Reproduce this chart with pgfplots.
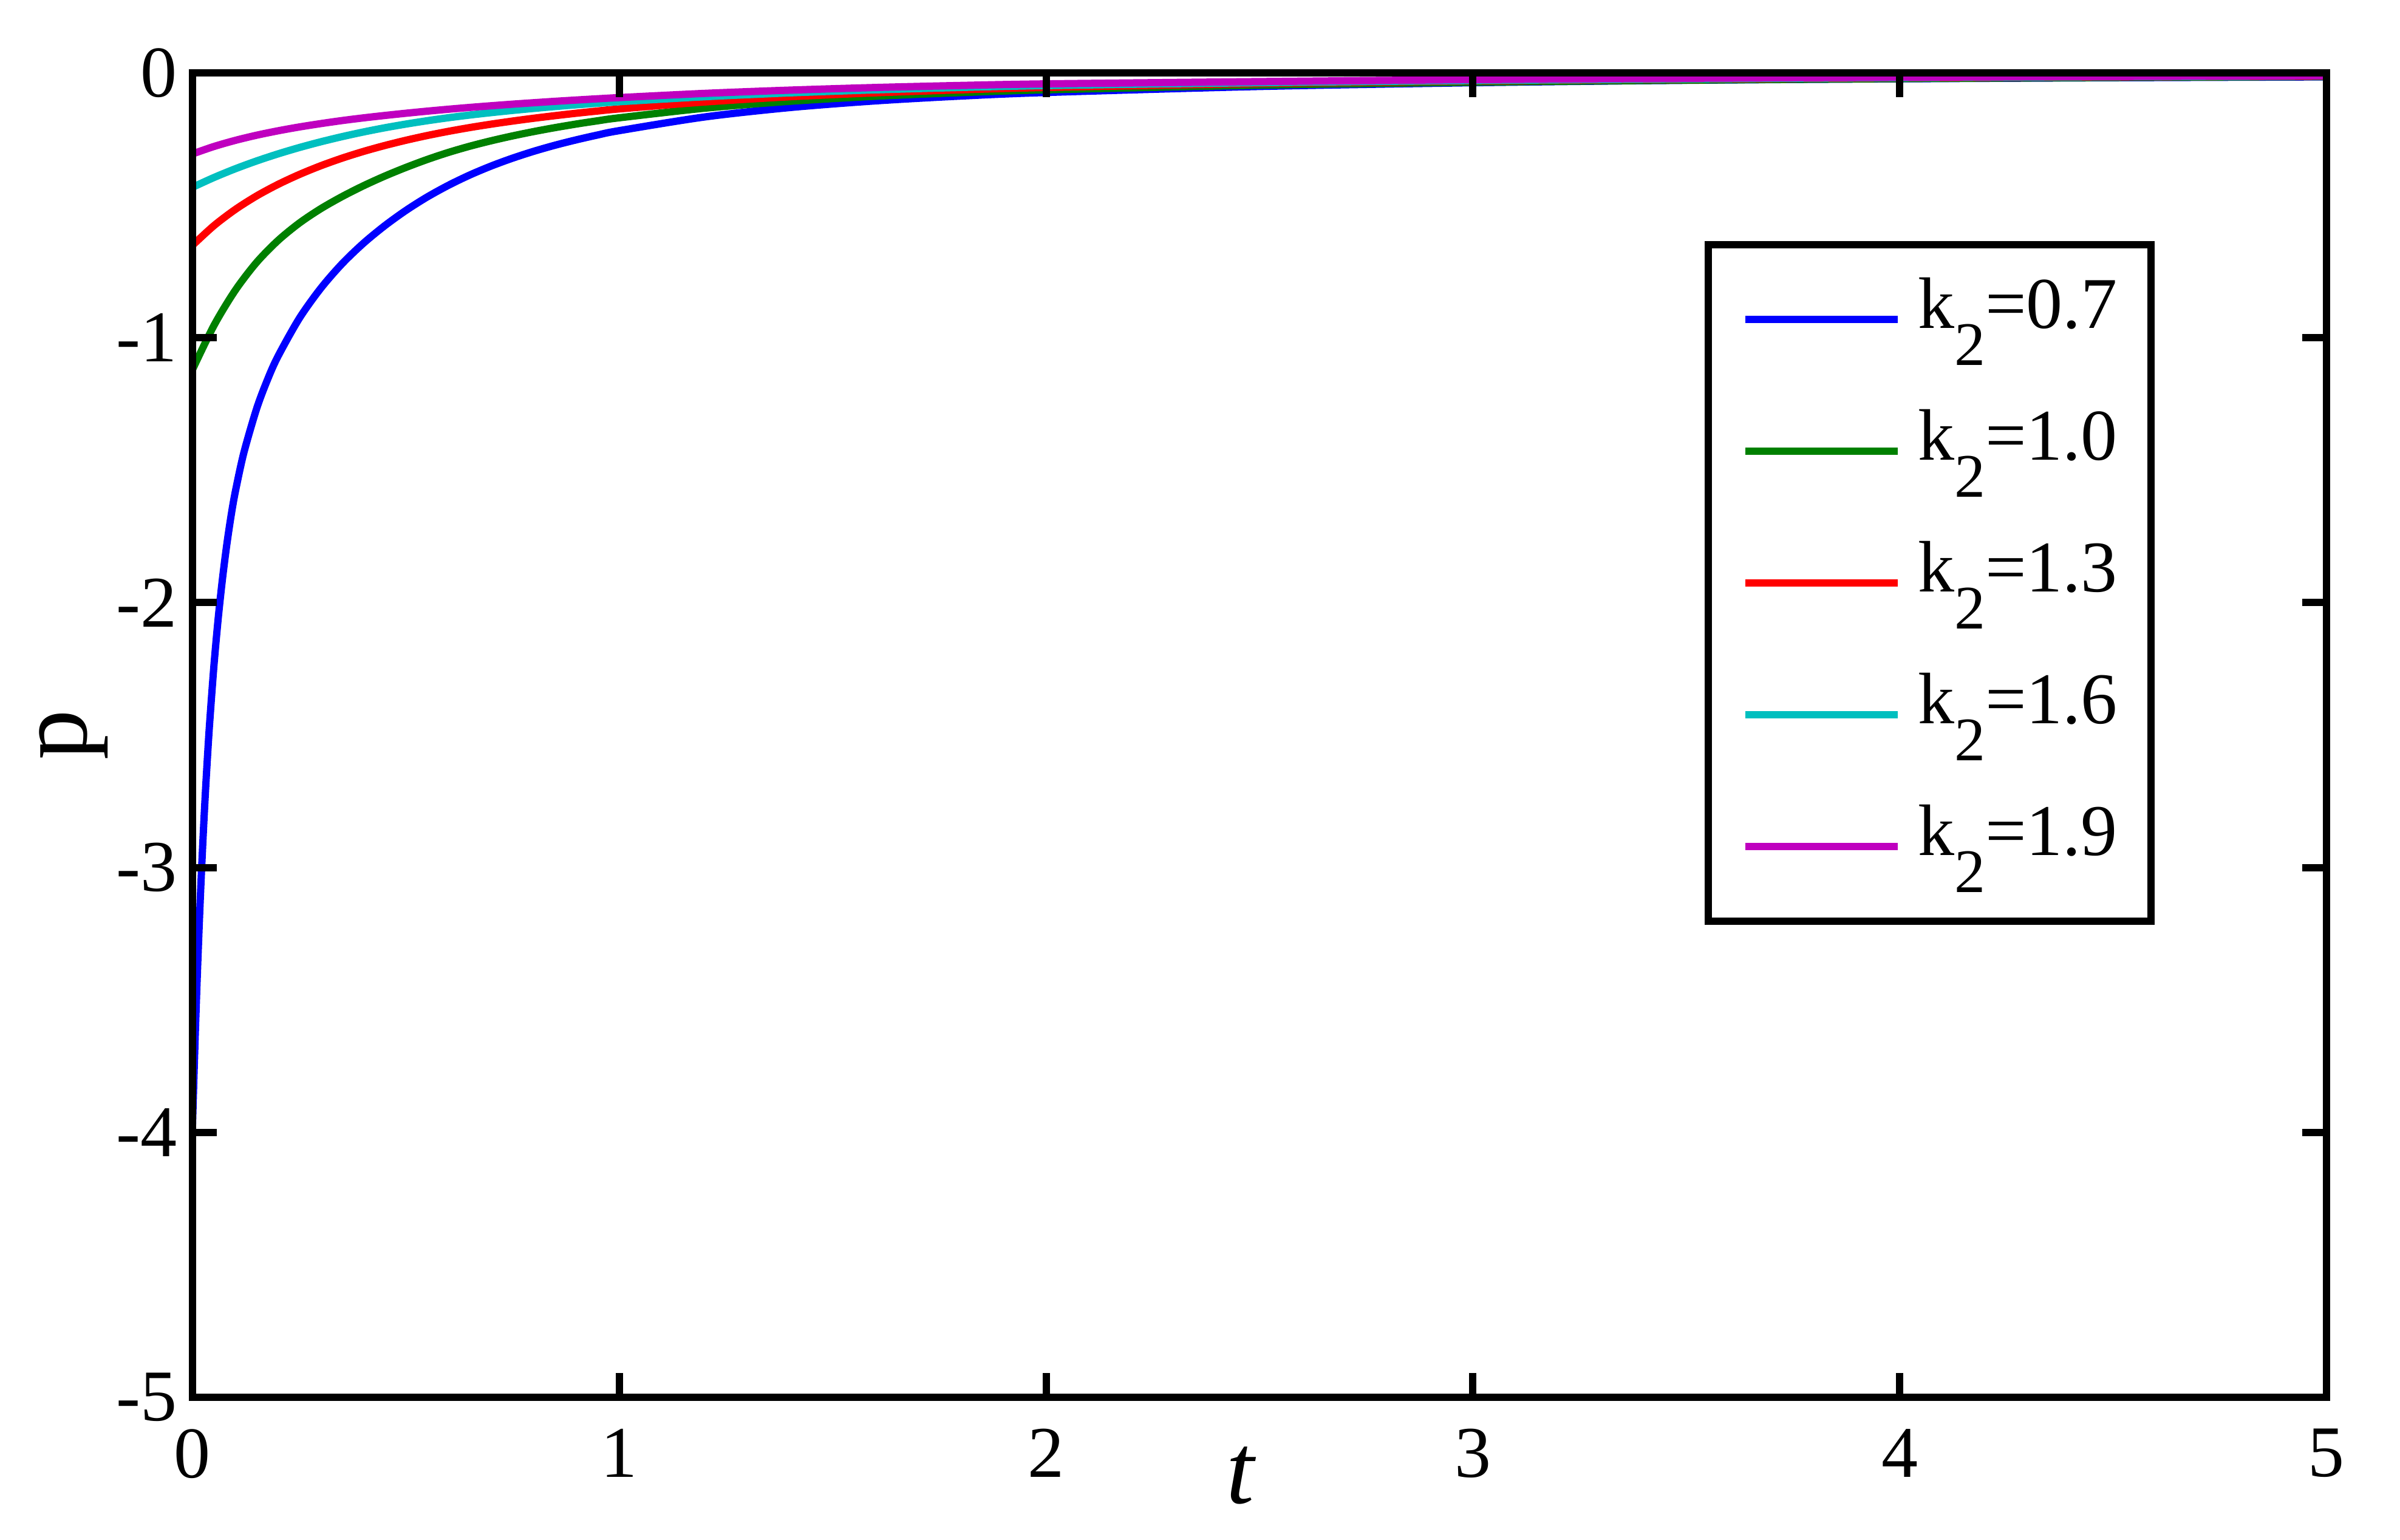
\documentclass[border=0pt]{standalone}
\usepackage{pgfplots}
\pgfplotsset{compat=1.18}
\usepackage{fontspec}
\setmainfont{Liberation Serif}
\definecolor{mblue}{RGB}{0,0,255}
\definecolor{mgreen}{RGB}{0,128,0}
\definecolor{mred}{RGB}{255,0,0}
\definecolor{mcyan}{RGB}{0,191,191}
\definecolor{mmag}{RGB}{191,0,191}
\newcommand{\kk}[1]{k\raisebox{-6.1bp}{\fontsize{10.2bp}{12bp}\selectfont 2}=#1}
\begin{document}
\begin{tikzpicture}
\begin{axis}[
  at={(0bp,0bp)}, anchor=south west,
  scale only axis, width=351.4bp, height=218.1bp,
  xmin=0, xmax=5, ymin=-5, ymax=0,
  xtick={0,1,2,3,4,5}, ytick={-5,-4,-3,-2,-1,0},
  tick align=inside, major tick length=4bp,
  axis line style={line width=1.2bp},
  every tick/.style={black, line width=1.2bp},
  axis on top,
  tick label style={font=\fontsize{12bp}{14bp}\selectfont},
  /pgf/number format/assume math mode=true,
  xticklabel style={yshift=-1.7bp},
  yticklabel style={xshift=1bp},
  xlabel={\fontsize{16.5bp}{18bp}\selectfont\itshape t},
  ylabel={\fontsize{16.5bp}{18bp}\selectfont p},
  xlabel style={at={([yshift=-17.4bp]axis description cs:0.491,0)}, anchor=base},
  ylabel style={at={([xshift=-17.4bp]axis description cs:0,0.5)}, anchor=base},
  legend style={at={(axis description cs:0.7086,0.873)}, anchor=north west,
    draw=black, fill=white, line width=1.2bp, inner xsep=5.5bp, inner ysep=3.8bp,
    row sep=4.7bp, column sep=2.7bp,
    nodes={inner sep=0pt, text height=10bp, text depth=7bp, font=\fontsize{12bp}{14bp}\selectfont},
    cells={anchor=west}},
  legend image code/.code={\draw[#1, line width=1.2bp] (0bp,0bp) -- (25.1bp,0bp);},
]
\addplot[mblue, line width=1.2bp, smooth] coordinates {
(0,-3.970) (0.005,-3.705) (0.01,-3.463) (0.015,-3.246) (0.02,-3.052) (0.025,-2.879)
(0.03,-2.723) (0.035,-2.584) (0.04,-2.458) (0.05,-2.242) (0.06,-2.063) (0.07,-1.913)
(0.08,-1.785) (0.09,-1.676) (0.10,-1.584) (0.12,-1.436) (0.15,-1.269) (0.175,-1.161)
(0.20,-1.071) (0.25,-0.9275) (0.30,-0.8144) (0.35,-0.7215) (0.40,-0.6440) (0.45,-0.5776)
(0.50,-0.5194) (0.55,-0.4685) (0.60,-0.4242) (0.65,-0.3854) (0.70,-0.3516) (0.75,-0.3220)
(0.80,-0.2959) (0.85,-0.2729) (0.90,-0.2526) (0.95,-0.2343) (1.00,-0.2181)
(1.2,-0.1665) (1.4,-0.1309) (1.6,-0.1058) (1.8,-0.0876) (2.0,-0.0741) (2.5,-0.0514)
(3.0,-0.0373) (3.5,-0.0280) (4.0,-0.0225) (4.5,-0.0185) (5.0,-0.0152)};
\addlegendentry{\kk{0.7}}
\addplot[mgreen, line width=1.2bp, smooth] coordinates {
(0,-1.120) (0.05,-0.9544) (0.10,-0.8214) (0.15,-0.7159) (0.20,-0.6334) (0.25,-0.5674)
(0.30,-0.5134) (0.35,-0.4675) (0.40,-0.4267) (0.45,-0.3901) (0.50,-0.3571) (0.55,-0.3270)
(0.60,-0.3002) (0.65,-0.2768) (0.70,-0.2563) (0.75,-0.2380) (0.80,-0.2215) (0.85,-0.2066)
(0.90,-0.1930) (0.95,-0.1808) (1.00,-0.1696)
(1.2,-0.1334) (1.4,-0.1073) (1.6,-0.0884) (1.8,-0.0746) (2.0,-0.0642) (2.5,-0.0466)
(3.0,-0.0354) (3.5,-0.0276) (4.0,-0.0218) (4.5,-0.0174) (5.0,-0.0139)};
\addlegendentry{\kk{1.0}}
\addplot[mred, line width=1.2bp, smooth] coordinates {
(0,-0.651) (0.05,-0.5771) (0.10,-0.5160) (0.15,-0.4648) (0.20,-0.4214) (0.25,-0.3839)
(0.30,-0.3511) (0.35,-0.3223) (0.40,-0.2969) (0.45,-0.2745) (0.50,-0.2545) (0.55,-0.2366)
(0.60,-0.2207) (0.65,-0.2064) (0.70,-0.1936) (0.75,-0.1820) (0.80,-0.1713) (0.85,-0.1615)
(0.90,-0.1523) (0.95,-0.1439) (1.00,-0.1361)
(1.2,-0.1100) (1.4,-0.0902) (1.6,-0.0754) (1.8,-0.0641) (2.0,-0.0553) (2.5,-0.0401)
(3.0,-0.0306) (3.5,-0.0240) (4.0,-0.0190) (4.5,-0.0152) (5.0,-0.0125)};
\addlegendentry{\kk{1.3}}
\addplot[mcyan, line width=1.2bp, smooth] coordinates {
(0,-0.432) (0.05,-0.3953) (0.10,-0.3623) (0.15,-0.3327) (0.20,-0.3061) (0.25,-0.2821)
(0.30,-0.2605) (0.35,-0.2410) (0.40,-0.2234) (0.45,-0.2075) (0.50,-0.1934) (0.55,-0.1807)
(0.60,-0.1693) (0.65,-0.1592) (0.70,-0.1501) (0.75,-0.1418) (0.80,-0.1342) (0.85,-0.1271)
(0.90,-0.1206) (0.95,-0.1146) (1.00,-0.1090)
(1.2,-0.0902) (1.4,-0.0756) (1.6,-0.0642) (1.8,-0.0552) (2.0,-0.0480) (2.5,-0.0370)
(3.0,-0.0290) (3.5,-0.0230) (4.0,-0.0180) (4.5,-0.0145) (5.0,-0.0117)};
\addlegendentry{\kk{1.6}}
\addplot[mmag, line width=1.2bp, smooth] coordinates {
(0,-0.306) (0.05,-0.2781) (0.10,-0.2550) (0.15,-0.2355) (0.20,-0.2189) (0.25,-0.2044)
(0.30,-0.1917) (0.35,-0.1802) (0.40,-0.1701) (0.45,-0.1610) (0.50,-0.1525) (0.55,-0.1446)
(0.60,-0.1373) (0.65,-0.1305) (0.70,-0.1242) (0.75,-0.1182) (0.80,-0.1127) (0.85,-0.1074)
(0.90,-0.1025) (0.95,-0.0978) (1.00,-0.0934)
(1.2,-0.0775) (1.4,-0.0652) (1.6,-0.0553) (1.8,-0.0476) (2.0,-0.0416) (2.5,-0.0330)
(3.0,-0.0255) (3.5,-0.0205) (4.0,-0.0165) (4.5,-0.0135) (5.0,-0.0110)};
\addlegendentry{\kk{1.9}}
\end{axis}
\pgfresetboundingbox
\path[use as bounding box] (-31.7bp,-23.5bp) rectangle (363.5bp,230.1bp);
\end{tikzpicture}
\end{document}
